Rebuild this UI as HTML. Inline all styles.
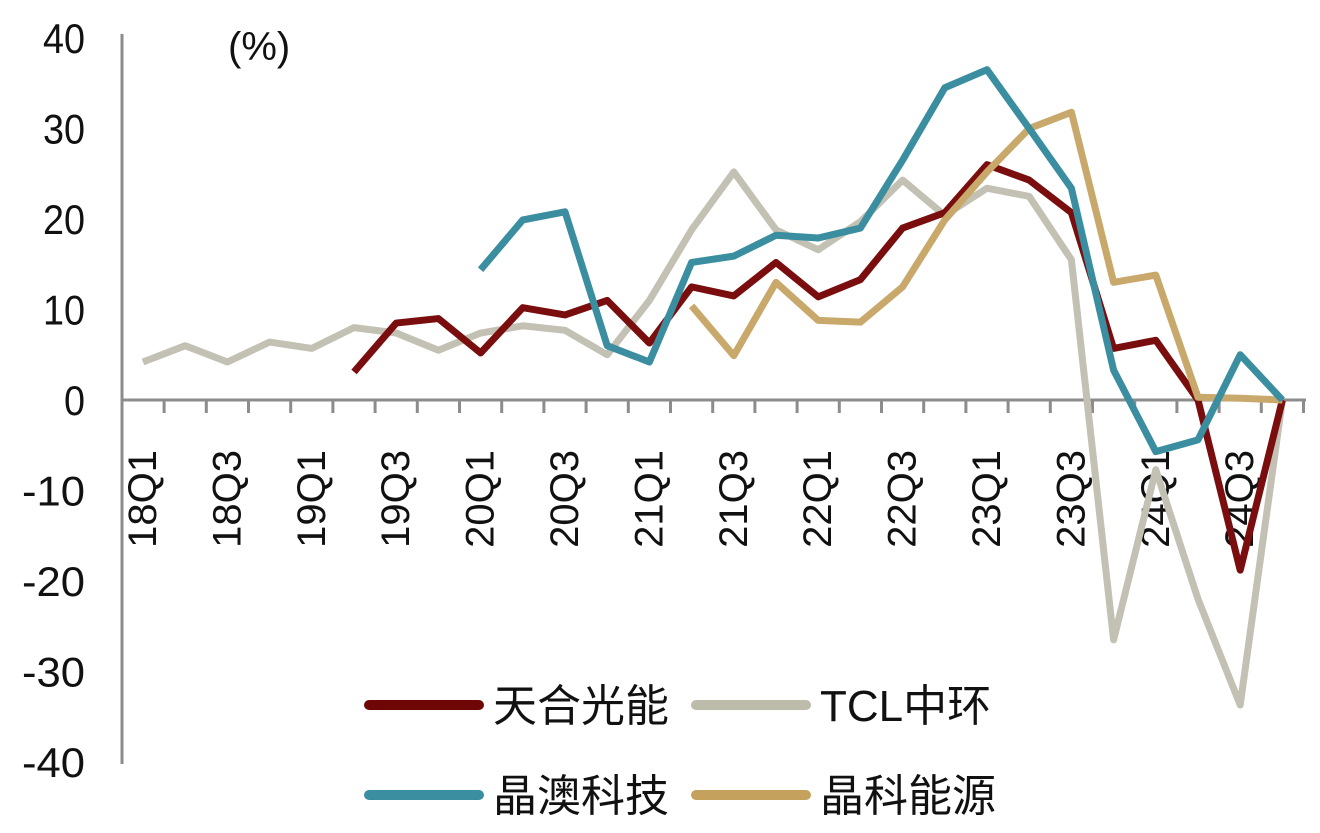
<!DOCTYPE html>
<html><head><meta charset="utf-8"><style>
body{margin:0;background:#fff}
svg text{font-family:"Liberation Sans","Noto Sans CJK SC",sans-serif}
</style></head><body>
<svg id="c" width="1320" height="828">
<g id="axes"></g><g id="lines"></g><g id="legend"></g>
</svg>
<script>
const categories=["18Q1","18Q2","18Q3","18Q4","19Q1","19Q2","19Q3","19Q4","20Q1","20Q2","20Q3","20Q4","21Q1","21Q2","21Q3","21Q4","22Q1","22Q2","22Q3","22Q4","23Q1","23Q2","23Q3","23Q4","24Q1","24Q2","24Q3","24Q4"];
const yTicks=[40,30,20,10,0,-10,-20,-30,-40];
const tcl=[4.2,6,4.2,6.4,5.7,8,7.4,5.5,7.4,8.2,7.7,5,11,18.8,25.2,18.8,16.6,19.7,24.3,20.4,23.4,22.5,15.5,-26.5,-7.7,-22,-33.7,0];
const trina=[null,null,null,null,null,3.1,8.5,9,5.2,10.2,9.4,11,6.3,12.5,11.5,15.2,11.4,13.3,19,20.7,26,24.3,20.7,5.7,6.6,0,-18.8,0];
const ja=[null,null,null,null,null,null,null,null,14.4,19.9,20.8,6,4.2,15.2,15.9,18.2,17.9,19,26.5,34.5,36.5,30,23.4,3.3,-5.7,-4.4,5,0];
const jinko=[null,null,null,null,null,null,null,null,null,null,null,null,null,10.4,4.9,13,8.8,8.6,12.5,19.9,25.2,30,31.8,13,13.8,0.3,0.2,0];
const NS="http://www.w3.org/2000/svg";
const X=i=>143+42.2*i, Y=v=>400-v*9.05;
function mk(t,a,p){const e=document.createElementNS(NS,t);for(const k in a)e.setAttribute(k,a[k]);p.appendChild(e);return e;}
const ax=document.getElementById('axes');
const yl=mk('line',{x1:122,y1:34,x2:122,y2:764,stroke:'#8c8c8c','stroke-width':3},ax);


const xl=mk('line',{x1:122,y1:Y(0),x2:1306,y2:Y(0),stroke:'#8c8c8c','stroke-width':3},ax);


yTicks.forEach(v=>{const t=mk('text',{x:85,y:Y(v)+15,'text-anchor':'end','font-size':42,fill:'#111',textLength:(String(v).length*21),lengthAdjust:'spacingAndGlyphs'},ax);t.textContent=v;

});
categories.forEach((c,i)=>{const xx=X(i)+21.1;mk('line',{x1:xx,y1:Y(0),x2:xx,y2:Y(0)+13,stroke:'#8c8c8c','stroke-width':3},ax);
if(i%2==0){const t=mk('text',{x:0,y:0,'text-anchor':'end','font-size':40,fill:'#111',transform:`translate(${X(i)+13},450) rotate(-90)`},ax);t.textContent=c;

}});
const u=mk('text',{x:228,y:60,'font-size':40,fill:'#111'},ax);u.textContent='(%)';


const series=[[tcl,'#c3c1b3','tcl-line'],[trina,'#7a0d0d','trina-line'],[jinko,'#c9a86b','jinko-line'],[ja,'#3a8e9f','ja-line']];
const lg=document.getElementById('lines');
series.forEach(([d,col,n])=>{let p='';d.forEach((v,i)=>{if(v===null)return;p+=(p?'L':'M')+X(i)+' '+Y(v);});
const e=mk('path',{d:p,fill:'none',stroke:col,'stroke-width':7,'stroke-linejoin':'round'},lg);

});
const L=document.getElementById('legend');
[['天合光能','#6e0606',365,705],['TCL中环','#bdbcaa',692,705],['晶澳科技','#3a8e9f',365,795],['晶科能源','#c4a25e',692,795]].forEach(([n,c,x,y])=>{
mk('line',{x1:x+4,y1:y,x2:x+114,y2:y,stroke:c,'stroke-width':10,'stroke-linecap':'round'},L);
const t=mk('text',{x:x+128,y:y+16,'font-size':44,fill:'#111'},L);t.textContent=n;

});
</script>
</body></html>
